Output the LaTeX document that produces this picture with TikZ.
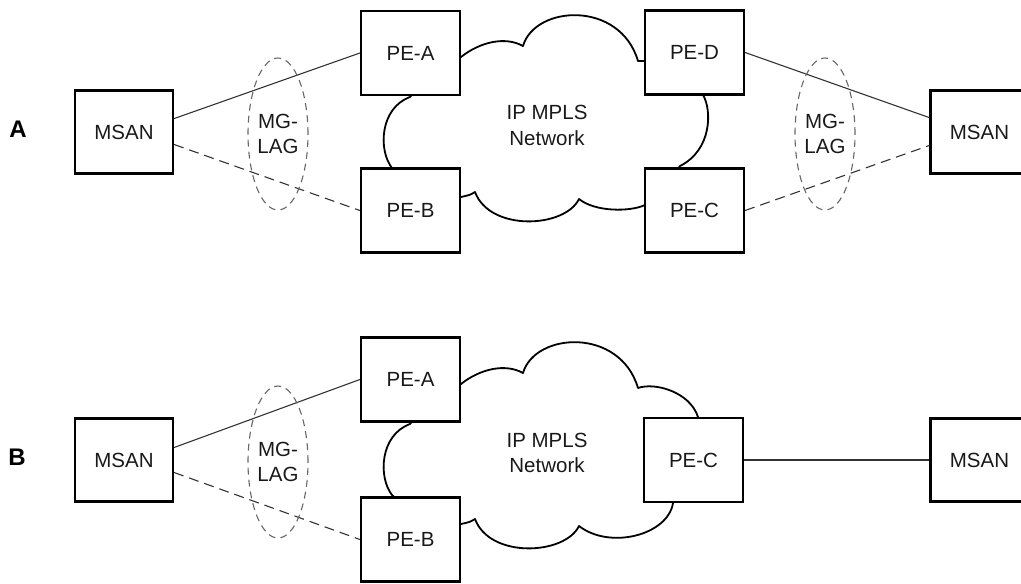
\documentclass[tikz,border=0pt]{standalone}
\usepackage{fontspec}
\setmainfont{Liberation Sans}
\usetikzlibrary{shapes.geometric}
\begin{document}
\begin{tikzpicture}[x=1pt,y=-1pt,
  txt/.style={font=\fontsize{20.5}{25.5}\selectfont, text=black!90, align=center},
  msanbox/.style={txt, draw=black, line width=2.2pt, fill=white, minimum width=98pt, minimum height=83pt, inner sep=0pt},
  pebox/.style={txt, draw=black, line width=2.2pt, fill=white, minimum width=99pt, minimum height=84pt, inner sep=0pt},
  lag/.style={txt, ellipse, draw=black!60, line width=1.1pt, dash pattern=on 7pt off 5pt, minimum width=60pt, minimum height=152pt, inner sep=0pt},
  cloudline/.style={draw=black, line width=1.8pt, line join=round},
  link/.style={draw=black!80, line width=1.1pt},
  dlink/.style={link, dash pattern=on 10pt off 6pt},
  lbl/.style={font=\fontsize{24}{28}\selectfont\bfseries, text=black}
]
\useasboundingbox (0,0) rectangle (1021,584);

% ---------- Diagram A ----------
\draw[cloudline] (455,60) -- (461,57) .. controls (480,42) and (505,36) .. (523,46)
  .. controls (535,5) and (620,0) .. (638,61) -- (655,61) -- (700,90) -- (703,95)
  .. controls (712,110) and (712,150) .. (680,166) -- (670,180) -- (650,205) -- (645,205)
  .. controls (630,212) and (595,212) .. (579,199)
  .. controls (565,228) and (490,232) .. (475,192)
  .. controls (470,195) .. (461,197) -- (440,190) -- (400,175) -- (392,168)
  .. controls (378,150) and (380,108) .. (410,97) -- (420,85) -- cycle;

\node[lbl] (labA) at (18,129) {A};
\node[msanbox] (msanLA) at (124,132) {MSAN};
\node[pebox] (peaA) at (410.5,53) {PE-A};
\node[pebox] (pebA) at (410.5,210.5) {PE-B};
\node[pebox] (pedA) at (694.5,52.5) {PE-D};
\node[pebox] (pecA) at (694.5,210.5) {PE-C};
\node[msanbox] (msanRA) at (979.5,132) {MSAN};
\node[txt] (netA) at (547,125.5) {IP MPLS\\Network};

\draw[link] (msanLA.15.6) -- (peaA.west);
\draw[dlink] (msanLA.-14.6) -- (pebA.west);
\draw[link] (pedA.east) -- (msanRA.164.4);
\draw[dlink] (pecA.east) -- (msanRA.195);

\node[lag] (lagLA) at (278,134) {MG-\\LAG};
\node[lag] (lagRA) at (825,134) {MG-\\LAG};

% ---------- Diagram B ----------
\draw[cloudline] (455,387) -- (461,384) .. controls (480,369) and (505,363) .. (523,373)
  .. controls (535,332) and (620,327) .. (638,388)
  .. controls (655,382) and (690,392) .. (698,417) -- (700,430) -- (680,490) -- (673,503)
  .. controls (668,535) and (610,550) .. (579,526)
  .. controls (565,555) and (490,559) .. (475,519)
  .. controls (470,522) .. (461,524) -- (440,517) -- (400,502) -- (392,495)
  .. controls (378,477) and (380,435) .. (410,424) -- (420,412) -- cycle;

\node[lbl] (labB) at (17,457) {B};
\node[msanbox] (msanLB) at (124,460) {MSAN};
\node[pebox] (peaB) at (410.5,379.5) {PE-A};
\node[pebox] (pebB) at (410.5,539.5) {PE-B};
\node[pebox] (pecB) at (693.5,460) {PE-C};
\node[msanbox] (msanRB) at (979.5,460) {MSAN};
\node[txt] (netB) at (547,453) {IP MPLS\\Network};

\draw[link] (msanLB.14.6) -- (peaB.west);
\draw[dlink] (msanLB.-14.6) -- (pebB.west);
\draw[link] (pecB.east) -- (msanRB.west);

\node[lag] (lagLB) at (278,462) {MG-\\LAG};
\end{tikzpicture}
\end{document}
